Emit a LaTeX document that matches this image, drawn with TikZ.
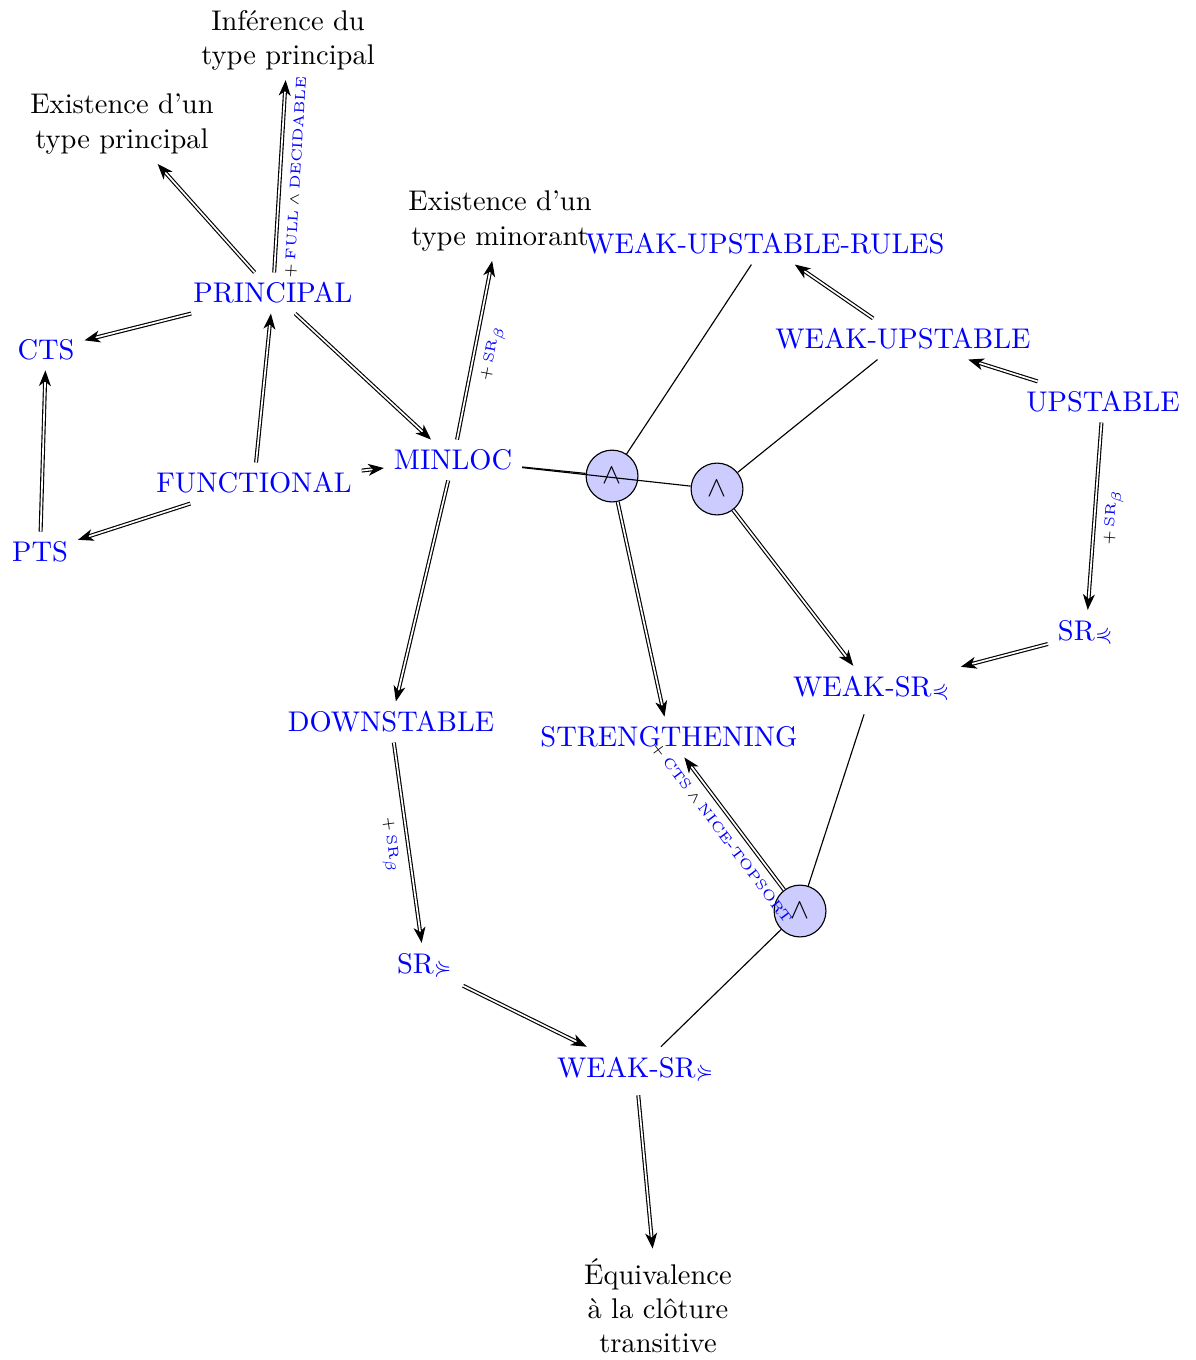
\documentclass[tikz,border=0pt]{standalone}
\usepackage{fontspec}
\usepackage{amssymb}
\usetikzlibrary{arrows.meta}
\newcommand{\blu}[1]{\textcolor{blue}{#1}}

\begin{document}
\begin{tikzpicture}
  [every node/.style = {text = blue, align = center},
   goal/.style = {text = black},
   conj/.style = {circle, draw, fill = blue!20, text = black, minimum size = 0.64cm, inner sep = 0pt},
   impl/.style = {double, -{Stealth[length = 5.5pt, width = 4.2pt, inset = 1.6pt]}},
   lbl/.style = {sloped, below, font = \tiny, text = black}]
  \useasboundingbox (0, 0) rectangle (14.753, -16.79);

  \node [goal] (inf) at (3.556, -0.494) {Inférence du\\type principal};
  \node [goal] (exprinc) at (1.506, -1.531) {Existence d'un\\type principal};
  \node [goal] (exmin) at (6.173, -2.728) {Existence d'un\\type minorant};
  \node [goal] (equiv) at (8.123, -16.123) {Équivalence\\à la clôture\\transitive};

  \node (principal) at (3.370, -3.617) {PRINCIPAL};
  \node (cts) at (0.568, -4.321) {CTS};
  \node (functional) at (3.136, -5.963) {FUNCTIONAL};
  \node (pts) at (0.494, -6.815) {PTS};
  \node (minloc) at (5.593, -5.679) {MINLOC};
  \node (wur) at (9.444, -3.012) {WEAK-UPSTABLE-RULES};
  \node (wu) at (11.148, -4.185) {WEAK-UPSTABLE};
  \node (up) at (13.617, -4.963) {UPSTABLE};
  \node (srprec) at (13.407, -7.827) {SR$_\curlyeqprec$};
  \node (wsrprec) at (10.765, -8.519) {WEAK-SR$_\curlyeqprec$};
  \node (str) at (8.259, -9.099) {STRENGTHENING};
  \node (down) at (4.827, -8.914) {DOWNSTABLE};
  \node (srsucc) at (5.247, -11.938) {SR$_\curlyeqsucc$};
  \node (wsrsucc) at (7.852, -13.222) {WEAK-SR$_\curlyeqsucc$};

  \node [conj] (and1) at (7.556, -5.877) {$\wedge$};
  \node [conj] (and2) at (8.852, -6.037) {$\wedge$};
  \node [conj] (and3) at (9.877, -11.247) {$\wedge$};

  \draw [impl] (principal) -- (exprinc);
  \draw [impl] (principal) -- node [lbl] {$+\,$\blu{FULL}$\,\wedge\,$\blu{DECIDABLE}} (inf);
  \draw [impl] (principal) -- (cts);
  \draw [impl] (principal) -- (minloc);
  \draw [impl] (functional) -- (principal);
  \draw [impl] (functional) -- (pts);
  \draw [impl] (functional) -- (minloc);
  \draw [impl] (pts) -- (cts);
  \draw [impl] (minloc) -- node [lbl] {$+\,$\blu{SR$_\beta$}} (exmin);
  \draw [impl] (minloc) -- (down);
  \draw [impl] (down) -- node [lbl] {$+\,$\blu{SR$_\beta$}} (srsucc);
  \draw [impl] (srsucc) -- (wsrsucc);
  \draw [impl] (wsrsucc) -- (equiv);
  \draw [impl] (wu) -- (wur);
  \draw [impl] (up) -- (wu);
  \draw [impl] (up) -- node [lbl] {$+\,$\blu{SR$_\beta$}} (srprec);
  \draw [impl] (srprec) -- (wsrprec);

  \draw (minloc) -- (and1);
  \draw (minloc) -- (and2);
  \draw (wur) -- (and1);
  \draw (wu) -- (and2);
  \draw [impl] (and1) -- (str);
  \draw [impl] (and2) -- (wsrprec);
  \draw (wsrprec) -- (and3);
  \draw (wsrsucc) -- (and3);
  \draw [impl] (and3) -- node [lbl] {$+\,$\blu{CTS}$\,\wedge\,$\blu{NICE-TOPSORT}} (str);
\end{tikzpicture}
\end{document}
